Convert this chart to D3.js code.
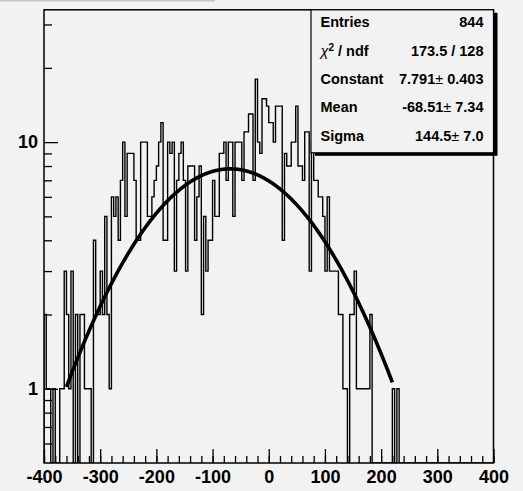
<!DOCTYPE html>
<html>
<head>
<meta charset="utf-8">
<script src="https://cdn.jsdelivr.net/npm/d3@7"></script>
<style>
  body { margin: 0; background: #f2f2f2; }
  svg { display: block; }
</style>
</head>
<body>
<svg id="chart"></svg>
<script>
let w = 523;
let h = 491;

// histogram binning: 200 bins from -400 to 400
let xMin = -400;
let xMax = 400;
let binWidth = 4;

// bin contents (bin 0 starts at -400)
let binCounts = [
  2, 1, 1, 0, 1, 0, 0, 1, 1, 3,   2, 1, 3, 0, 2, 0, 2, 2, 1, 1,
  1, 0, 4, 2, 2, 3, 2, 5, 2, 1,   6, 5, 6, 4, 7, 10, 5, 9, 9, 9,
  7, 4, 4, 10, 10, 10, 5, 5, 6, 7,   8, 10, 12, 4, 4, 10, 9, 10, 3, 7,
  9, 10, 7, 3, 8, 8, 8, 4, 6, 8,   2, 5, 3, 4, 4, 7, 5, 5, 9, 9,
  10, 7, 10, 10, 5, 10, 10, 10, 7, 11,   11, 13, 13, 7, 18, 10, 9, 15, 15, 14,
  12, 12, 10, 14, 14, 14, 4, 9, 8, 8,   10, 10, 14, 8, 8, 7, 11, 11, 3, 10,
  7, 7, 6, 6, 5, 3, 6, 3, 3, 3,   3, 2, 2, 1, 1, 0, 2, 2, 3, 1,
  1, 1, 1, 1, 1, 2, 0, 0, 0, 0,   0, 0, 0, 0, 0, 1, 0, 1, 0, 0,
  0, 0, 0, 0, 0, 0, 0, 0, 0, 0,   0, 0, 0, 0, 0, 0, 0, 0, 0, 0,
  0, 0, 0, 0, 0, 0, 0, 0, 0, 0,   0, 0, 0, 0, 0, 0, 0, 0, 0, 0
];

// gaussian fit shown in the stats box
let fitConstant = 7.791;
let fitMean = -68.51;
let fitSigma = 144.5;
let fitRange = [-360, 220];

// stats box rows
let statLabels = ["Entries", "χ2 / ndf", "Constant", "Mean", "Sigma"];
let statValues = ["844", "173.5 / 128", "7.791|0.403", "-68.51|7.34", "144.5|7.0"];

// axis ticks
let xMajorTicks = [-400, -300, -200, -100, 0, 100, 200, 300, 400];
let xMinorTicks = d3.range(-400, 401, 20);
let yMajorTicks = [1, 10];
let yMinorTicks = [0.6, 0.7, 0.8, 0.9, 2, 3, 4, 5, 6, 7, 8, 9, 20, 30];

let frame = { left: 44, right: 493.5, top: 9.8, bottom: 463 };
let yMin = 0.5;
let yMax = 34.4;

let svg = d3.select("#chart")
  .attr("width", w)
  .attr("height", h);

svg.append("rect")
  .attr("width", w)
  .attr("height", h)
  .style("fill", "#f2f2f2");

// remains of the title pad at the top
svg.append("rect")
  .attr("x", 0)
  .attr("y", 0)
  .attr("width", 215)
  .attr("height", 1.5)
  .style("fill", "#c4c4c4");

let xScale = d3.scaleLinear().domain([xMin, xMax]).range([frame.left, frame.right]);
let yScale = d3.scaleLog().domain([yMin, yMax]).range([frame.bottom, frame.top]);

svg.append("clipPath")
  .attr("id", "frameClip")
  .append("rect")
  .attr("x", frame.left)
  .attr("y", frame.top)
  .attr("width", frame.right - frame.left)
  .attr("height", frame.bottom - frame.top);

let plot = svg.append("g").attr("clip-path", "url(#frameClip)");

// step outline of the histogram, empty bins drop to the frame bottom
let yOf = (c) => c > 0 ? yScale(c) : frame.bottom;
let pts = [[xScale(xMin), frame.bottom]];
binCounts.forEach((c, i) => {
  let x0 = xMin + i * binWidth;
  pts.push([xScale(x0), yOf(c)]);
  pts.push([xScale(x0 + binWidth), yOf(c)]);
});
pts.push([xScale(xMax), frame.bottom]);

plot.append("path")
  .attr("d", d3.line()(pts))
  .style("fill", "none")
  .style("stroke", "#000")
  .style("stroke-width", 1.4);

// fit curve
let fitPts = d3.range(fitRange[0], fitRange[1] + 0.5, 1).map((x) => {
  let v = fitConstant * Math.exp(-0.5 * Math.pow((x - fitMean) / fitSigma, 2));
  return [xScale(x), yScale(v)];
});
plot.append("path")
  .attr("d", d3.line()(fitPts))
  .style("fill", "none")
  .style("stroke", "#000")
  .style("stroke-width", 3.6)
  .style("stroke-linejoin", "round");

// axes, ticks pointing into the frame
let labelFont = "bold 18px 'Liberation Sans', Arial, sans-serif";

let xMinorAxis = d3.axisBottom(xScale).tickValues(xMinorTicks).tickFormat("").tickSize(-7);
let xMajorAxis = d3.axisBottom(xScale).tickValues(xMajorTicks).tickFormat((d) => String(d)).tickSize(-14).tickPadding(7.5);

let gxm = svg.append("g")
  .attr("transform", "translate(0," + frame.bottom + ")")
  .call(xMinorAxis);
let gx = svg.append("g")
  .attr("id", "x-axis")
  .attr("transform", "translate(0," + frame.bottom + ")")
  .call(xMajorAxis);

let yMinorAxis = d3.axisLeft(yScale).tickValues(yMinorTicks).tickFormat("").tickSize(-8);
let yMajorAxis = d3.axisLeft(yScale).tickValues(yMajorTicks).tickFormat((d) => String(d)).tickSize(-14).tickPadding(6);

let gym = svg.append("g")
  .attr("transform", "translate(" + frame.left + ",0)")
  .call(yMinorAxis);
let gy = svg.append("g")
  .attr("id", "y-axis")
  .attr("transform", "translate(" + frame.left + ",0)")
  .call(yMajorAxis);

[gxm, gx, gym, gy].forEach((g) => {
  g.select(".domain").remove();
  g.selectAll("line").style("stroke", "#000").style("stroke-width", 1.3);
  g.selectAll("text").style("font", labelFont).style("fill", "#000");
});

// frame
svg.append("rect")
  .attr("x", frame.left)
  .attr("y", frame.top)
  .attr("width", frame.right - frame.left)
  .attr("height", frame.bottom - frame.top)
  .style("fill", "none")
  .style("stroke", "#000")
  .style("stroke-width", 1.5);

// stats box with shadow
let box = { x: 311, y: frame.top, w: 182.5, h: 143 };
svg.append("rect")
  .attr("x", box.x + 4)
  .attr("y", box.y + 3)
  .attr("width", box.w)
  .attr("height", box.h)
  .style("fill", "#000");
svg.append("rect")
  .attr("x", box.x)
  .attr("y", box.y)
  .attr("width", box.w)
  .attr("height", box.h)
  .style("fill", "#f2f2f2")
  .style("stroke", "#000")
  .style("stroke-width", 1.2);

let statFont = "bold 14.5px 'Liberation Sans', Arial, sans-serif";
let rowBase = [27.3, 55.7, 84.2, 112, 141.3];

statLabels.forEach((lab, i) => {
  let t = svg.append("text")
    .attr("x", 320.5)
    .attr("y", rowBase[i])
    .style("font", statFont)
    .style("fill", "#000");
  if (lab.indexOf("χ2") === 0) {
    t.append("tspan").text("χ").style("font-weight", "normal").style("font-style", "italic");
    t.append("tspan").text("2").attr("dy", -5).style("font-size", "10px");
    t.append("tspan").text(" / ndf").attr("dy", 5);
  } else {
    t.text(lab);
  }
});

statValues.forEach((val, i) => {
  let t = svg.append("text")
    .attr("x", 483.5)
    .attr("y", rowBase[i])
    .attr("text-anchor", "end")
    .style("font", statFont)
    .style("fill", "#000");
  if (val.indexOf("|") > 0) {
    let parts = val.split("|");
    t.append("tspan").text(parts[0]);
    t.append("tspan").text("±").style("font-weight", "normal");
    t.append("tspan").text(" " + parts[1]);
  } else {
    t.text(val);
  }
});
</script>
</body>
</html>
